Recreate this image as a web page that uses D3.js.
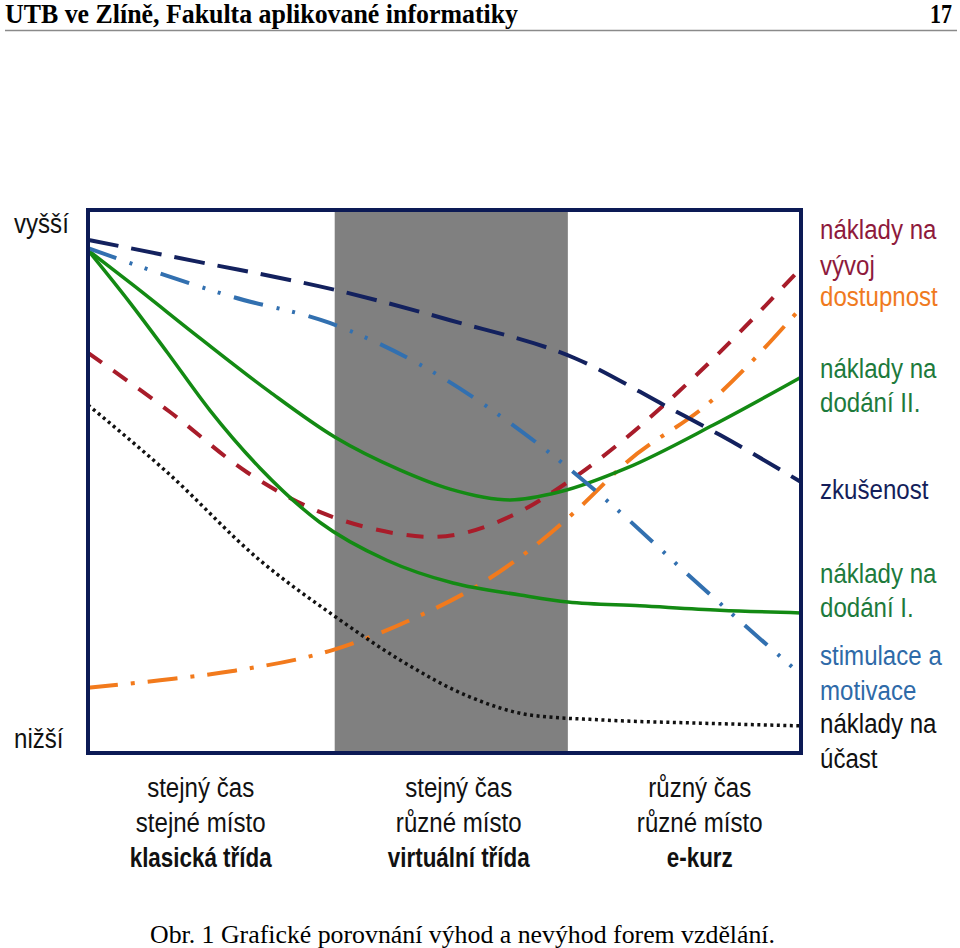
<!DOCTYPE html>
<html>
<head>
<meta charset="utf-8">
<script src="https://cdn.jsdelivr.net/npm/d3@7"></script>
<style>
  body { margin: 0; background: #fff; }
  svg { display: block; }
</style>
</head>
<body>
<script>
// curves, x and y both on a 0..100 scale
const zkusenost  = [[0,94.5],[15.7,90.4],[34.6,85.3],[50.8,79.7],[68.3,72.7],[81.6,63.5],[88.6,58.6],[100,49.9]]
const stimulace  = [[0,93.0],[10.8,88.0],[20.3,84.0],[33.9,79.2],[46.6,71.5],[59.6,60.4],[66.9,53.0],[73.2,46.0],[85.8,30.9],[100,14.4]]
const dodaniII   = [[0,92.6],[6.3,86.2],[15.7,76.4],[25.5,66.5],[34.6,58.2],[43.8,52.1],[50.8,48.6],[59.2,46.6],[66.2,48.1],[75.6,52.5],[87.7,60.4],[100,69.2]]
const dodaniI    = [[0,92.6],[5.9,82.9],[11.1,73.8],[17.1,63.1],[24.1,52.5],[32.5,42.5],[41.9,35.5],[51.2,31.3],[60.6,29.1],[67.3,27.8],[77.4,27.1],[88.6,26.3],[100,25.8]]
const vyvoj      = [[0,73.7],[11.5,62.8],[22.3,51.7],[32.5,44.4],[39.6,41.4],[48.4,39.8],[59.6,43.8],[67.3,49.9],[74.6,57.1],[85.8,70.2],[100,89.3]]
const dostupnost = [[0,12.0],[10.1,13.4],[20.3,15.1],[34.4,19.0],[45.2,24.5],[56.0,31.9],[63.4,38.9],[68.6,44.8],[75.6,53.6],[87.2,64.6],[100,82.0]]
const ucast      = [[0,64.1],[11.1,51.7],[24.1,35.5],[34.9,24.9],[43.8,17.1],[53.6,10.3],[62.0,7.0],[71.8,6.1],[85.8,5.5],[100,5.0]]

const band = [34.6, 67.3]          // virtual class zone
const colCenters = [15.8, 52, 85.8]
const colRows = [
  ['stejný čas', 'stejné místo', 'klasická třída'],
  ['stejný čas', 'různé místo', 'virtuální třída'],
  ['různý čas', 'různé místo', 'e-kurz'],
]
const legendLines = [
  ['náklady na', '#8e1a3c', 239],
  ['vývoj', '#8e1a3c', 275],
  ['dostupnost', '#f07a1e', 306],
  ['náklady na', '#1d7a3c', 378],
  ['dodání II.', '#1d7a3c', 412],
  ['zkušenost', '#141e5a', 499],
  ['náklady na', '#1d7a3c', 583],
  ['dodání I.', '#1d7a3c', 617],
  ['stimulace a', '#2e6aa8', 665],
  ['motivace', '#2e6aa8', 700],
  ['náklady na', '#111', 733],
  ['účast', '#111', 768],
]

const series = [
  { data: dostupnost, color: '#f27a1c', width: 4,   dash: '30,13,4,13' },
  { data: ucast,      color: '#111',    width: 3.5, dash: '3,3.5' },
  { data: vyvoj,      color: '#a81c2a', width: 4,   dash: '17,14' },
  { data: dodaniI,    color: '#138a13', width: 3.5, dash: null },
  { data: dodaniII,   color: '#138a13', width: 3.5, dash: null },
  { data: stimulace,  color: '#3270b0', width: 4,   dash: '30,14,3,13,3,14' },
  { data: zkusenost,  color: '#13215e', width: 4,   dash: '31,13' },
]

const svg = d3.select('body').append('svg')
  .attr('width', 960)
  .attr('height', 948)

const x = d3.scaleLinear().domain([0, 100]).range([88, 801])
const y = d3.scaleLinear().domain([0, 100]).range([753, 210])

const serif = '"Liberation Serif", "Times New Roman", serif'
const sans = '"Liberation Sans", Arial, sans-serif'

// condensed look of the original labels: tall font squeezed horizontally
function label(g, tx, ty, sx) {
  return g.append('text')
    .attr('transform', `translate(${tx},${ty}) scale(${sx},1)`)
    .attr('font-family', sans)
    .attr('font-size', '28px')
}

// page header
svg.append('text')
  .attr('x', 5).attr('y', 23)
  .attr('font-family', serif)
  .attr('font-weight', 'bold').attr('font-size', '27px')
  .attr('textLength', 513).attr('lengthAdjust', 'spacingAndGlyphs')
  .text('UTB ve Zlíně, Fakulta aplikované informatiky')
svg.append('text')
  .attr('x', 952).attr('y', 23).attr('text-anchor', 'end')
  .attr('font-family', serif)
  .attr('font-weight', 'bold').attr('font-size', '27px')
  .attr('textLength', 22).attr('lengthAdjust', 'spacingAndGlyphs')
  .text('17')
svg.append('line')
  .attr('x1', 5).attr('x2', 957).attr('y1', 30.5).attr('y2', 30.5)
  .attr('stroke', '#8a8a8a').attr('stroke-width', 1.5)

// gray band
svg.append('rect')
  .attr('x', x(band[0])).attr('y', y(100))
  .attr('width', x(band[1]) - x(band[0]))
  .attr('height', y(0) - y(100))
  .attr('fill', '#808080')

const line = d3.line()
  .x(d => x(d[0]))
  .y(d => y(d[1]))
  .curve(d3.curveMonotoneX)

svg.append('g')
  .selectAll('path')
  .data(series)
  .join('path')
    .attr('d', s => line(s.data))
    .attr('fill', 'none')
    .attr('stroke', s => s.color)
    .attr('stroke-width', s => s.width)
    .attr('stroke-dasharray', s => s.dash)

// frame
svg.append('rect')
  .attr('x', x(0)).attr('y', y(100))
  .attr('width', x(100) - x(0))
  .attr('height', y(0) - y(100))
  .attr('fill', 'none')
  .attr('stroke', '#0c1a55')
  .attr('stroke-width', 4)

label(svg, 14, 233, 0.86).attr('fill', '#111').text('vyšší')
label(svg, 14, 748, 0.86).attr('fill', '#111').text('nižší')

legendLines.forEach(d => {
  label(svg, 820, d[2], 0.86).attr('fill', d[1]).text(d[0])
})

const rowY = [797, 832, 867]
colRows.forEach((rows, i) => {
  rows.forEach((t, j) => {
    label(svg, x(colCenters[i]), rowY[j], j === 2 ? 0.8 : 0.86)
      .attr('text-anchor', 'middle')
      .attr('font-weight', j === 2 ? 'bold' : 'normal')
      .attr('fill', '#111')
      .text(t)
  })
})

// caption
svg.append('text')
  .attr('x', 150).attr('y', 943)
  .attr('font-family', serif)
  .attr('font-size', '26px')
  .attr('textLength', 625).attr('lengthAdjust', 'spacingAndGlyphs')
  .text('Obr. 1 Grafické porovnání výhod a nevýhod forem vzdělání.')
</script>
</body>
</html>
